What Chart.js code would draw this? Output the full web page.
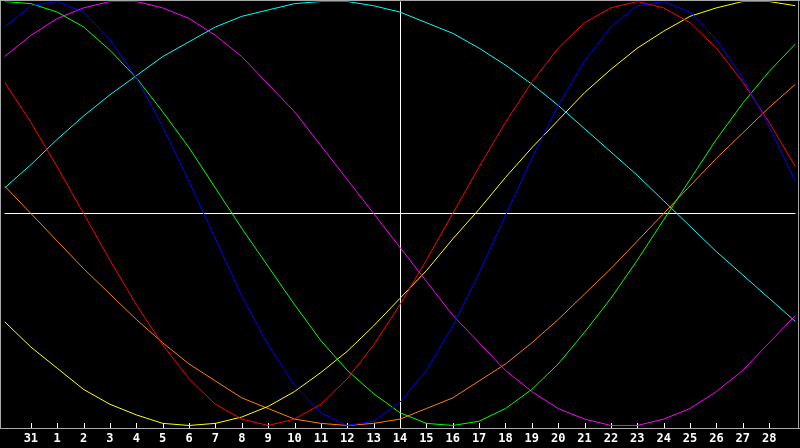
<!DOCTYPE html>
<html>
<head>
<meta charset="utf-8">
<title>Biorhythm</title>
<script src="https://cdn.jsdelivr.net/npm/chart.js"></script>
<style>
  html, body { margin: 0; padding: 0; background: #000; }
  canvas { display: block; }
</style>
</head>
<body>
<canvas id="bioChart" width="800" height="448"></canvas>
<script>
// Day labels (index 0 and 30 are unlabeled edges)
const dayLabels = ['', '31', '1', '2', '3', '4', '5', '6', '7', '8', '9', '10', '11', '12', '13', '14',
    '15', '16', '17', '18', '19', '20', '21', '22', '23', '24', '25', '26', '27', '28', ''];
const todayIndex = 15; // "14"

// Cycle values, one per day (-1 .. 1)
const physical     = [0.88, 0.98, 1.00, 0.95, 0.82, 0.64, 0.41, 0.15, -0.12, -0.39, -0.62, -0.81, -0.94, -1.00, -0.98, -0.89,
    -0.74, -0.53, -0.28, -0.01, 0.26, 0.51, 0.72, 0.88, 0.98, 1.00, 0.95, 0.82, 0.64, 0.41, 0.15];
const emotional    = [0.62, 0.43, 0.22, 0, -0.22, -0.43, -0.62, -0.78, -0.90, -0.97, -1.00, -0.97, -0.90, -0.78, -0.62, -0.43,
    -0.22, 0, 0.22, 0.43, 0.62, 0.78, 0.90, 0.97, 1.00, 0.97, 0.90, 0.78, 0.62, 0.43, 0.22];
const intellectual = [1.00, 0.99, 0.95, 0.88, 0.77, 0.64, 0.48, 0.31, 0.12, -0.07, -0.25, -0.43, -0.60, -0.74, -0.85, -0.94,
    -0.99, -1.00, -0.98, -0.92, -0.83, -0.71, -0.56, -0.40, -0.22, -0.03, 0.16, 0.35, 0.52, 0.67, 0.80];
const intuitive    = [0.74, 0.84, 0.92, 0.97, 1.00, 1.00, 0.97, 0.92, 0.84, 0.74, 0.61, 0.48, 0.32, 0.16, 0, -0.16,
    -0.32, -0.48, -0.61, -0.74, -0.84, -0.92, -0.97, -1.00, -1.00, -0.97, -0.92, -0.84, -0.74, -0.61, -0.48];
const aesthetic    = [-0.51, -0.63, -0.73, -0.83, -0.90, -0.95, -0.99, -1.00, -0.99, -0.96, -0.91, -0.84, -0.75, -0.65, -0.53, -0.40,
    -0.27, -0.12, 0.02, 0.17, 0.31, 0.44, 0.57, 0.68, 0.78, 0.86, 0.93, 0.97, 1.00, 1.00, 0.98];
const awareness    = [0.13, 0, -0.13, -0.26, -0.38, -0.50, -0.61, -0.71, -0.79, -0.87, -0.92, -0.97, -0.99, -1.00, -0.99, -0.97,
    -0.92, -0.87, -0.79, -0.71, -0.61, -0.50, -0.38, -0.26, -0.13, 0, 0.13, 0.26, 0.38, 0.50, 0.61];
const spiritual    = [0.12, 0.23, 0.35, 0.46, 0.56, 0.65, 0.74, 0.81, 0.88, 0.93, 0.96, 0.99, 1.00, 1.00, 0.98, 0.95,
    0.90, 0.85, 0.78, 0.70, 0.61, 0.51, 0.40, 0.29, 0.18, 0.06, -0.06, -0.18, -0.29, -0.40, -0.51];

function toPoints(values) {
    return values.map((v, i) => ({ x: i, y: v }));
}

function line(label, values, color) {
    return {
        label: label,
        data: toPoints(values),
        borderColor: color,
        borderWidth: 1,
        pointRadius: 0,
        tension: 0,
        fill: false
    };
}

// Crosshair, inward tick marks and the grey frame
const framePlugin = {
    id: 'frame',
    beforeDatasetsDraw(chart) {
        const { ctx, chartArea, scales: { x, y } } = chart;
        ctx.save();
        ctx.strokeStyle = '#ffffff';
        ctx.lineWidth = 1;
        const cx = Math.round(x.getPixelForValue(todayIndex)) + 0.5;
        const cy = Math.round(y.getPixelForValue(0)) + 0.5;
        ctx.beginPath();
        ctx.moveTo(cx, chartArea.top);
        ctx.lineTo(cx, chartArea.bottom);
        ctx.moveTo(chartArea.left, cy);
        ctx.lineTo(chartArea.right, cy);
        ctx.stroke();

        const bottom = Math.round(chartArea.bottom);
        ctx.beginPath();
        for (let i = 1; i < dayLabels.length - 1; i++) {
            const px = Math.round(x.getPixelForValue(i)) + 0.5;
            ctx.moveTo(px, bottom - 5);
            ctx.lineTo(px, bottom);
        }
        ctx.stroke();
        ctx.restore();
    },
    afterDraw(chart) {
        const { ctx, chartArea } = chart;
        const bottom = Math.round(chartArea.bottom) + 0.5;
        ctx.save();
        ctx.strokeStyle = '#a8a8a8';
        ctx.lineWidth = 1;
        ctx.beginPath();
        ctx.moveTo(0, 0.5);
        ctx.lineTo(800, 0.5);
        ctx.moveTo(0.5, 0);
        ctx.lineTo(0.5, bottom);
        ctx.moveTo(798.5, 0);
        ctx.lineTo(798.5, bottom);
        ctx.moveTo(0, bottom);
        ctx.lineTo(800, bottom);
        ctx.stroke();
        ctx.restore();
    }
};

const ctx = document.getElementById('bioChart').getContext('2d');
new Chart(ctx, {
    type: 'line',
    data: {
        datasets: [
            line('Physical', physical, '#0000ff'),
            line('Emotional', emotional, '#ff0000'),
            line('Intellectual', intellectual, '#00ff00'),
            line('Intuitive', intuitive, '#ff00ff'),
            line('Aesthetic', aesthetic, '#ffff00'),
            line('Awareness', awareness, '#ff8000'),
            line('Spiritual', spiritual, '#00ffff')
        ]
    },
    options: {
        responsive: false,
        animation: false,
        layout: { padding: { top: 1.5, left: 0, right: 0, bottom: -3 } },
        plugins: {
            legend: { display: false },
            tooltip: { enabled: false }
        },
        scales: {
            x: {
                type: 'linear',
                min: 0,
                max: 30,
                grid: { display: false, drawTicks: false },
                border: { display: false },
                ticks: {
                    stepSize: 1,
                    autoSkip: false,
                    maxRotation: 0,
                    padding: 4.5,
                    color: '#ffffff',
                    font: { family: 'DejaVu Sans Mono', size: 12, weight: 'bold' },
                    callback: (value) => dayLabels[value] ?? ''
                }
            },
            y: {
                display: false,
                min: -1.01,
                max: 1
            }
        }
    },
    plugins: [framePlugin]
});
</script>
</body>
</html>
